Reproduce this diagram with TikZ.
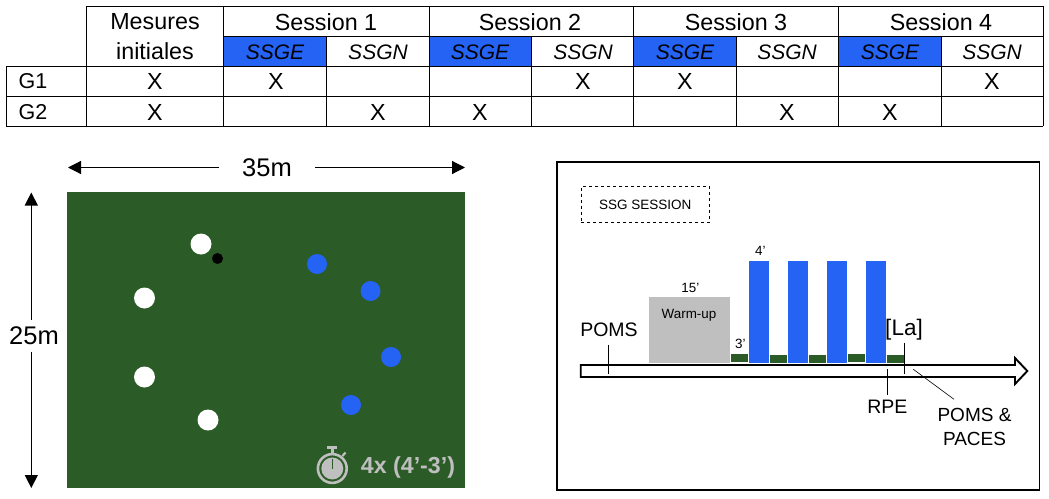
\documentclass[tikz,border=0pt]{standalone}
\usepackage{fontspec}
\setmainfont{Liberation Sans}
\usetikzlibrary{arrows.meta}
\definecolor{gblue}{HTML}{2563F5}
\definecolor{ggreen}{HTML}{2B5B26}
\definecolor{ggray}{HTML}{BFBFBF}
\tikzset{
 x=1pt,y=-1pt,
 tl/.style={font=\fontsize{23.3}{23.3}\selectfont,inner sep=0pt,anchor=center},
 gl/.style={font=\fontsize{21.5}{21.5}\selectfont,inner sep=0pt,anchor=center},
 dim/.style={font=\fontsize{25.5}{25.5}\selectfont,inner sep=0pt,anchor=center},
 til/.style={font=\fontsize{21}{21}\selectfont\itshape,inner sep=0pt,anchor=center},
 lb/.style={font=\fontsize{19.5}{19.5}\selectfont,inner sep=0pt,anchor=center},
 sm/.style={font=\fontsize{13.4}{13.4}\selectfont,inner sep=0pt,anchor=center},
 grid/.style={draw=black,line width=1pt},
 meas/.style={line width=1.2pt,-{Triangle[length=13pt,width=13pt]}},
 tick/.style={line width=0.9pt},
 white dot/.style={circle,fill=white,draw=none,minimum size=21pt,inner sep=0pt},
 blue dot/.style={circle,fill=gblue,draw=none,minimum size=20pt,inner sep=0pt},
}
\begin{document}
\begin{tikzpicture}
\useasboundingbox (0,0) rectangle (1049,498);
% table fills
\foreach \a/\b in {223/326,429/531,633/736,838/941}
  \fill[gblue] (\a,36.5) rectangle (\b,66);
% table grid
\draw[grid] (86,6) -- (1043,6);
\draw[grid] (223,36.5) -- (1043,36.5);
\draw[grid] (6,66) -- (1043,66);
\draw[grid] (6,96.5) -- (1043,96.5);
\draw[grid] (6,126) -- (1043,126);
\draw[grid] (6,66) -- (6,126);
\foreach \c in {86,223,429,633,838,1043}
  \draw[grid] (\c,6) -- (\c,126);
\foreach \c in {326,531,736,941}
  \draw[grid] (\c,36.5) -- (\c,126);
% table text
\node[tl] (mes) at (155,22) {Mesures};
\node[tl] (ini) at (155,51) {initiales};
\node[tl] (s1) at (326,22) {Session 1};
\node[tl] (s2) at (530,22) {Session 2};
\node[tl] (s3) at (736,22) {Session 3};
\node[tl] (s4) at (941,22) {Session 4};
\foreach \n/\x in {a/275,b/480,c/685,d/890}
  \node[til] (ge\n) at (\x,52) {SSGE};
\foreach \n/\x in {a/378,b/583,c/787,d/992}
  \node[til] (gn\n) at (\x,52) {SSGN};
\node[gl] (g1) at (33,81.5) {G1};
\node[gl] (g2) at (33,112) {G2};
\foreach \n/\x in {a/155,b/276,c/583,d/685,e/992}
  \node[tl] (xa\n) at (\x,81.5) {X};
\foreach \n/\x in {a/155,b/378,c/480,d/787,e/890}
  \node[tl] (xb\n) at (\x,112) {X};
% field
\fill[ggreen] (67,192) rectangle (465,488);
\coordinate (wl) at (68,167.5);
\coordinate (wls) at (219,167.5);
\coordinate (wr) at (465,167.5);
\coordinate (wrs) at (315,167.5);
\coordinate (ht) at (31.3,192.5);
\coordinate (hts) at (31.3,320);
\coordinate (hb) at (31.3,488);
\coordinate (hbs) at (31.3,352);
\draw[meas] (wls) -- (wl);
\draw[meas] (wrs) -- (wr);
\draw[meas] (hts) -- (ht);
\draw[meas] (hbs) -- (hb);
\node[dim] (w35) at (267,168) {35m};
\node[dim] (h25) at (34,336) {25m};
\node[white dot] (p1) at (201,244) {};
\node[white dot] (p2) at (144.5,298) {};
\node[white dot] (p3) at (144.5,377) {};
\node[white dot] (p4) at (208,420) {};
\node[blue dot] (q1) at (317,264) {};
\node[blue dot] (q2) at (370.5,291) {};
\node[blue dot] (q3) at (391,357) {};
\node[blue dot] (q4) at (351,405) {};
\node[circle,fill=black,minimum size=11pt,inner sep=0pt] (ball) at (217.5,258.5) {};
% stopwatch
\draw[ggray,line width=2.6pt] (332.3,468.5) circle (14.4);
\fill[ggray] (332.3,468.5) circle (11);
\draw[ggreen,line width=1.4pt] (332.3,458.5) -- (332.3,469);
\fill[ggray] (326.7,446) rectangle (337.3,448.6);
\fill[ggray] (330.8,448) rectangle (333.8,454);
\draw[ggray,line width=2.2pt] (342.5,456) -- (345.5,452.5);
\node[font=\fontsize{23.2}{23.2}\selectfont\bfseries,text=ggray,inner sep=0pt] (rep) at (408,467) {4x (4’-3’)};
% session panel
\draw[line width=1.9pt] (556.7,162) rectangle (1039.5,490);
\node[draw,dashed,line width=0.7pt,minimum width=128.7pt,minimum height=35.6pt,inner sep=0pt,font=\fontsize{13.5}{13.5}\selectfont] (title) at (645.3,204.5) {SSG SESSION};
\fill[ggray] (649,297) rectangle (730,362.7);
\foreach \a/\b in {749/769,788/808,827/847,866/886}
  \fill[gblue] (\a,261) rectangle (\b,362.7);
\foreach \a/\b/\t in {731/748/354,770/787/355,809/826/355,848/865/354,887/904/355}
  \fill[ggreen] (\a,\t) rectangle (\b,\t+8);
\draw[line width=1.9pt,line join=miter] (580.7,365) -- (1015,365) -- (1015,358) -- (1027.3,371) -- (1015,384) -- (1015,377) -- (580.7,377) -- cycle;
\node[lb] (poms) at (609,330) {POMS};
\node[lb,font=\fontsize{22.5}{22.5}\selectfont] (la) at (904,330) {[La]};
\node[lb] (rpe) at (887.3,406.7) {RPE};
\node[lb,align=center,font=\fontsize{19}{24.5}\selectfont] (pp) at (974.5,427) {POMS \&\\PACES};
\node[sm] (t15) at (690.3,287.7) {15’};
\node[sm] (wu) at (689,315.7) {Warm-up};
\node[sm] (t3) at (740.3,344.3) {3’};
\node[sm] (t4) at (760.3,251.3) {4’};
\coordinate (a1) at (608.3,344.7); \coordinate (a2) at (608.3,374);
\coordinate (b1) at (887.3,369.3); \coordinate (b2) at (887.3,395);
\coordinate (c1) at (904.3,342.7); \coordinate (c2) at (904.3,374);
\coordinate (d1) at (913.3,369.3); \coordinate (d2) at (954,399.3);
\draw[tick] (a1) -- (a2);
\draw[tick] (b1) -- (b2);
\draw[tick] (c1) -- (c2);
\draw[line width=0.6pt] (d1) -- (d2);
\end{tikzpicture}
\end{document}
